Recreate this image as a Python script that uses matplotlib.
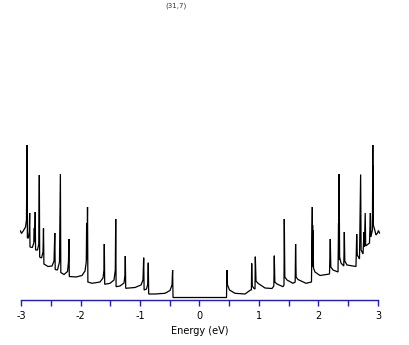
import matplotlib
matplotlib.use("Agg")
import matplotlib.pyplot as plt
from matplotlib.ticker import MultipleLocator, FuncFormatter
import numpy as np

title = "(31,7)"
xlabel = "Energy (eV)"
xticks = [-3, -2, -1, 0, 1, 2, 3]

# DOS trace, valence side (E < 0) (arb. units)
neg_E = [-3.008, -2.992, -2.958, -2.924, -2.908, -2.899, -2.897, -2.895, -2.893,
         -2.877, -2.862, -2.854, -2.849, -2.810, -2.785, -2.776, -2.771, -2.761,
         -2.755, -2.723, -2.701, -2.692, -2.686, -2.655, -2.630, -2.622, -2.615,
         -2.546, -2.479, -2.445, -2.432, -2.425, -2.387, -2.353, -2.338, -2.331,
         -2.277, -2.218, -2.202, -2.195, -2.188, -2.076, -1.975, -1.924, -1.903,
         -1.897, -1.894, -1.891, -1.889, -1.882, -1.876, -1.807, -1.672, -1.622,
         -1.605, -1.600, -1.593, -1.504, -1.437, -1.415, -1.408, -1.402, -1.336,
         -1.269, -1.252, -1.247, -1.240, -1.084, -0.983, -0.950, -0.938, -0.931,
         -0.891, -0.869, -0.861, -0.854, -0.748, -0.580, -0.496, -0.462, -0.452,
         -0.445]
neg_D = [6.9, 6.65, 6.95, 7.3, 8.0, 15.5, 8.0, 13.7, 6.2,
         6.2, 6.8, 8.7, 5.3, 5.25, 5.7, 7.2, 5.8, 8.8,
         5.0, 5.0, 5.6, 12.5, 4.3, 4.2, 4.8, 7.15, 3.6,
         3.35, 3.4, 3.9, 6.7, 3.05, 3.0, 3.8, 12.6, 2.75,
         2.55, 2.85, 3.8, 6.1, 2.35, 2.3, 2.45, 2.9, 3.8,
         7.5, 4.0, 7.7, 5.0, 9.3, 1.8, 1.67, 1.8, 2.2,
         3.0, 5.6, 1.57, 1.67, 2.0, 3.0, 8.1, 1.33, 1.4,
         1.7, 2.5, 4.4, 1.17, 1.25, 1.5, 2.0, 4.23, 1.0,
         1.1, 1.6, 3.73, 0.6, 0.6, 0.67, 0.95, 1.5, 3.0,
         0.25]

# DOS trace, conduction side (E > 0)
pos_E = [0.454, 0.461, 0.471, 0.504, 0.597, 0.765, 0.857, 0.872, 0.877, 0.886,
         0.916, 0.933, 0.938, 0.950, 0.983, 1.101, 1.218, 1.249, 1.257, 1.266,
         1.303, 1.403, 1.420, 1.425, 1.434, 1.471, 1.571, 1.608, 1.615, 1.624,
         1.655, 1.790, 1.882, 1.896, 1.899, 1.901, 1.904, 1.906, 1.916, 1.941,
         2.025, 2.185, 2.198, 2.207, 2.244, 2.328, 2.337, 2.340, 2.346, 2.355,
         2.378, 2.425, 2.434, 2.442, 2.479, 2.630, 2.642, 2.652, 2.689, 2.708,
         2.716, 2.748, 2.765, 2.771, 2.785, 2.793, 2.857, 2.872, 2.880, 2.906,
         2.913, 2.916, 2.918, 2.921, 2.941, 2.966, 2.992, 3.008, 3.025]
pos_D = [0.25, 3.0, 1.5, 1.0, 0.67, 0.6, 1.0, 1.0, 3.67, 1.4,
         1.15, 1.1, 4.33, 1.9, 1.67, 1.2, 1.15, 1.4, 4.43, 1.8,
         1.6, 1.33, 1.5, 8.1, 2.3, 2.0, 1.67, 1.8, 5.6, 2.3,
         2.05, 1.67, 1.8, 9.3, 3.3, 7.5, 3.5, 7.0, 3.2, 2.8,
         2.45, 2.6, 6.1, 3.3, 3.0, 2.8, 7.7, 4.0, 12.6, 4.3,
         3.7, 3.4, 6.8, 3.9, 3.5, 3.35, 6.6, 4.5, 4.1, 12.55,
         5.0, 4.6, 6.8, 5.3, 8.7, 5.4, 5.7, 8.7, 6.3, 7.0,
         15.5, 8.0, 13.5, 7.5, 7.1, 6.5, 6.7, 6.95, 6.7]

E = np.array(neg_E + pos_E)
D = np.array(neg_D + pos_D)

blue = "#1e1ec4"

fig = plt.figure(figsize=(4.09, 3.45), dpi=100)
ax = fig.add_axes([21 / 409, 45 / 345, 357 / 409, 160 / 345])
ax.plot(E, D, color="black", lw=0.9, clip_on=False, solid_joinstyle="miter")

ax.set_xlim(-3, 3)
ax.set_ylim(0, 16)
for s in ("top", "left", "right"):
    ax.spines[s].set_visible(False)
ax.spines["bottom"].set_color(blue)
ax.spines["bottom"].set_linewidth(1.0)
ax.set_yticks([])
ax.set_xticks(xticks)
ax.xaxis.set_minor_locator(MultipleLocator(0.5))
ax.xaxis.set_major_formatter(FuncFormatter(lambda v, p: f"{int(round(v))}"))
ax.tick_params(axis="x", which="both", direction="out", length=4.2, width=1.0,
               color=blue, labelsize=7, labelcolor="black", pad=3.8)
ax.set_xlabel(xlabel, fontsize=7, labelpad=3.5)
ax.patch.set_alpha(0)

fig.text(176 / 409, 1 - 6 / 345, title, fontsize=5, color="#333333",
         ha="center", va="center")

fig.savefig("out.png", dpi=100)
